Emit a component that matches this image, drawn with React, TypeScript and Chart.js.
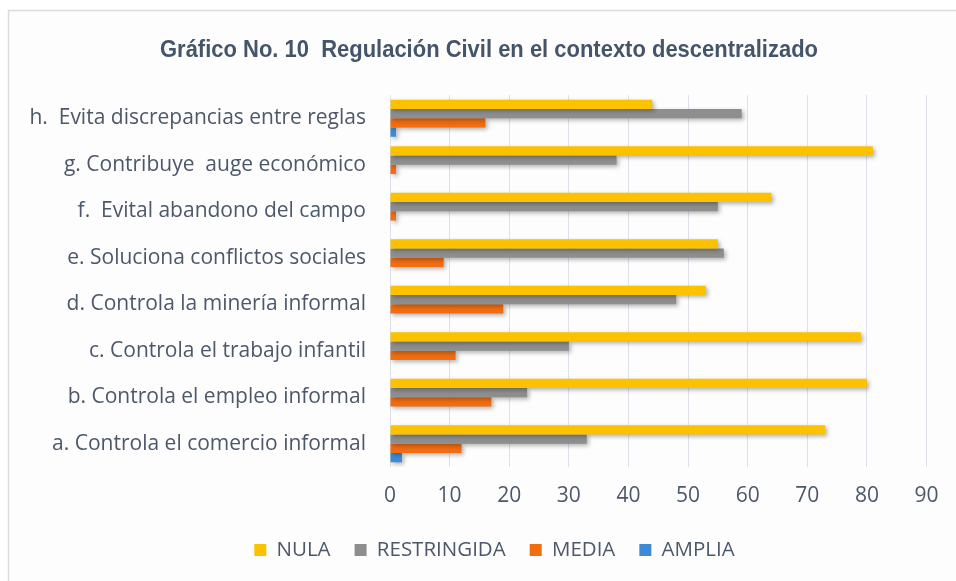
import React, { useEffect, useRef } from "react";
import { Chart, registerables } from "chart.js";

Chart.register(...registerables);

const titleText = "Gráfico No. 10  Regulación Civil en el contexto descentralizado";
const categories = [
  "h.  Evita discrepancias entre reglas",
  "g. Contribuye  auge económico",
  "f.  Evital abandono del campo",
  "e. Soluciona conflictos sociales",
  "d. Controla la minería informal",
  "c. Controla el trabajo infantil",
  "b. Controla el empleo informal",
  "a. Controla el comercio informal",
];
const nula = [44, 81, 64, 55, 53, 79, 80, 73];
const restringida = [59, 38, 55, 56, 48, 30, 23, 33];
const media = [16, 1, 1, 9, 19, 11, 17, 12];
const amplia = [1, 0, 0, 0, 0, 0, 0, 2];
const seriesNames = ["NULA", "RESTRINGIDA", "MEDIA", "AMPLIA"];
const xTicks = [0, 10, 20, 30, 40, 50, 60, 70, 80, 90];

const TEXT = "#4c586a";
const FONT = "'Open Sans', sans-serif";

const framePlugin = {
  id: "frame",
  beforeDraw(chart: any) {
    const { ctx, width, height } = chart;
    const legend = chart.legend;
    if (legend && !legend.__shifted) {
      legend.__shifted = true;
      const orig = legend.draw.bind(legend);
      legend.draw = (...args: any[]) => {
        legend.ctx.save();
        legend.ctx.translate(29, 0);
        orig(...args);
        legend.ctx.restore();
      };
    }
    ctx.save();
    ctx.fillStyle = "#ffffff";
    ctx.fillRect(0, 0, width, height);
    ctx.fillStyle = "#fdfdfd";
    ctx.fillRect(8, 10, width - 8, height - 10);
    ctx.strokeStyle = "#d9dce1";
    ctx.lineWidth = 1.5;
    ctx.beginPath();
    ctx.moveTo(8.5, height);
    ctx.lineTo(8.5, 10.5);
    ctx.lineTo(width, 10.5);
    ctx.stroke();
    ctx.restore();
  },
  beforeDatasetsDraw(chart: any) {
    const ctx = chart.ctx;
    ctx.save();
    ctx.shadowColor = "rgba(0,0,0,0.3)";
    ctx.shadowBlur = 4;
    ctx.shadowOffsetX = 2;
    ctx.shadowOffsetY = 2;
  },
  afterDatasetsDraw(chart: any) {
    chart.ctx.restore();
  },
  afterDraw(chart: any) {
    const ctx = chart.ctx;
    ctx.save();
    ctx.font = "bold 24px 'Liberation Sans', Arial, sans-serif";
    const w = ctx.measureText(titleText).width;
    const sx = 658 / w;
    ctx.translate(489, 57);
    ctx.scale(sx, 1);
    ctx.fillStyle = "#44546a";
    ctx.textAlign = "center";
    ctx.textBaseline = "alphabetic";
    ctx.fillText(titleText, 0, 0);
    ctx.restore();
  },
};

export default function App() {
  const ref = useRef<HTMLCanvasElement | null>(null);
  useEffect(() => {
    document.body.style.margin = "0";
    const canvas = ref.current!;
    const colors = ["#fcc200", "#8e8e8e", "#f06d12", "#3d8bd6"];
    const values = [nula, restringida, media, amplia];
    const chart = new Chart(canvas, {
      type: "bar",
      data: {
        labels: categories,
        datasets: seriesNames.map((name, i) => ({
          label: name,
          data: values[i],
          backgroundColor: colors[i],
          borderWidth: 0,
          categoryPercentage: 0.8,
          barPercentage: 1.0,
        })),
      },
      options: {
        indexAxis: "y",
        animation: false,
        responsive: false,
        maintainAspectRatio: false,
        layout: { autoPadding: false, padding: { left: 0, right: 25, top: 95, bottom: 10.7 } },
        plugins: {
          title: { display: false },
          legend: {
            position: "bottom",
            labels: {
              color: TEXT,
              font: { family: FONT, size: 20.5 },
              boxWidth: 12,
              boxHeight: 12,
              padding: 24,
            },
          },
          tooltip: { enabled: false },
        },
        scales: {
          x: {
            min: 0,
            max: 90,
            afterBuildTicks(scale: any) {
              scale.ticks = xTicks.map((v) => ({ value: v }));
            },
            afterFit(scale: any) {
              scale.height = 48.8;
            },
            ticks: { color: TEXT, font: { family: FONT, size: 21, lineHeight: 1.14 }, padding: 17.5 },
            grid: { color: "#dde2ea", drawTicks: false, lineWidth: 1 },
            border: { display: false },
          },
          y: {
            afterFit(scale: any) {
              scale.width = 390;
            },
            ticks: { color: TEXT, font: { family: FONT, size: 21 }, padding: 24 },
            grid: { display: false, drawTicks: false },
            border: { display: false },
          },
        },
      },
      plugins: [framePlugin],
    } as any);
    return () => chart.destroy();
  }, []);
  return <canvas ref={ref} width={956} height={581} style={{ display: "block" }} />;
}
